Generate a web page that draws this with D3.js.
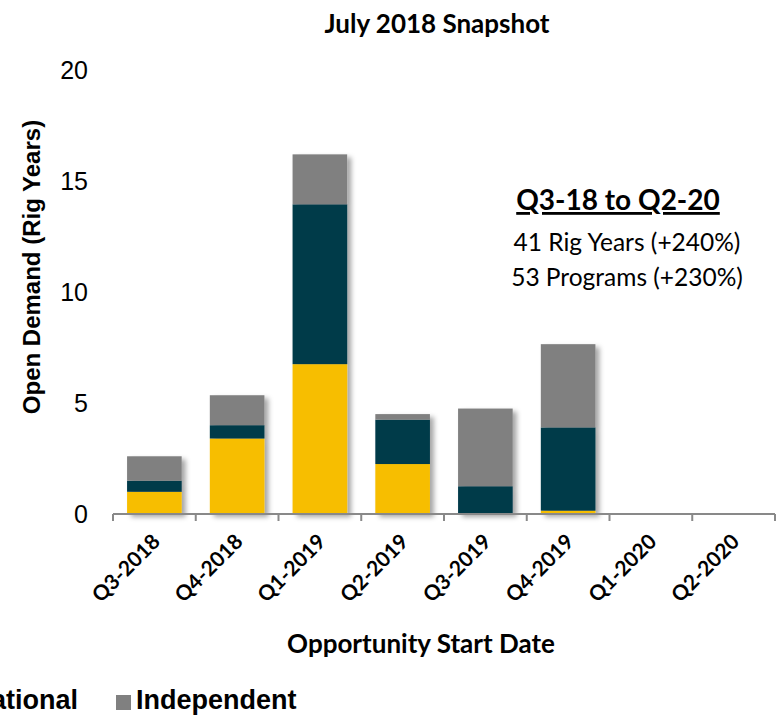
<!DOCTYPE html>
<html>
<head>
<meta charset="utf-8">
<script src="https://cdn.jsdelivr.net/npm/d3@7/dist/d3.min.js"></script>
<style>
  html, body { margin: 0; padding: 0; background: #fff; }
  svg { display: block; }
</style>
</head>
<body>
<div id="chart"></div>
<script>
// Open rig demand by opportunity start quarter, stacked by operator type
const quarters = ["Q3-2018", "Q4-2018", "Q1-2019", "Q2-2019", "Q3-2019", "Q4-2019", "Q1-2020", "Q2-2020"];
const seriesNames = ["National", "International", "Independent"];
const nationalValues      = [1.0, 3.4, 6.75, 2.25, 0.0, 0.15, 0, 0];
const internationalValues = [0.5, 0.6, 7.2, 2.0, 1.25, 3.75, 0, 0];
const independentValues   = [1.1, 1.35, 2.25, 0.25, 3.5, 3.75, 0, 0];
const yTicks = [0, 5, 10, 15, 20];
const seriesColors = ["#F7BE00", "#013A4A", "#808080"];

const summaryTitle = "Q3-18 to Q2-20";
const summaryLines = ["41 Rig Years (+240%)", "53 Programs (+230%)"];

const W = 776, H = 718;
const margin = { left: 113, right: 0, top: 70, bottom: 204 };

const svg = d3.select("#chart").append("svg")
  .attr("width", W).attr("height", H);

const defs = svg.append("defs");
const shadow = defs.append("filter").attr("id", "barShadow")
  .attr("x", "-20%").attr("y", "-20%").attr("width", "150%").attr("height", "140%");
shadow.append("feDropShadow")
  .attr("dx", 4).attr("dy", 3).attr("stdDeviation", 2.5)
  .attr("flood-color", "#000").attr("flood-opacity", 0.35);

const x = d3.scaleBand()
  .domain(quarters)
  .range([margin.left, W - 1])
  .paddingInner(0.34)
  .paddingOuter(0.17);

const y = d3.scaleLinear()
  .domain([0, 20])
  .range([H - margin.bottom, margin.top]);

// stacked data
const rows = quarters.map((q, i) => ({
  quarter: q,
  National: nationalValues[i],
  International: internationalValues[i],
  Independent: independentValues[i]
}));
const stacked = d3.stack().keys(seriesNames)(rows);

// bars
const barsG = svg.append("g");
quarters.forEach((q, i) => {
  const total = nationalValues[i] + internationalValues[i] + independentValues[i];
  if (total <= 0) return;
  const g = barsG.append("g").attr("filter", "url(#barShadow)");
  stacked.forEach((layer, k) => {
    const d = layer[i];
    if (d[1] - d[0] <= 0) return;
    g.append("rect")
      .attr("x", x(q))
      .attr("width", x.bandwidth())
      .attr("y", y(d[1]))
      .attr("height", y(d[0]) - y(d[1]))
      .attr("fill", seriesColors[k]);
  });
});

// x axis
const xAxisG = svg.append("g")
  .attr("transform", `translate(0,${y(0)})`);
const step = x.step();
const edges = quarters.map(q => x(q) - x.paddingInner() * step / 2).concat([W - 1]);
xAxisG.append("line")
  .attr("x1", margin.left).attr("x2", W - 1)
  .attr("y1", 0).attr("y2", 0)
  .attr("stroke", "#898989").attr("stroke-width", 2);
xAxisG.selectAll("line.tick")
  .data(edges)
  .join("line")
  .attr("class", "tick")
  .attr("x1", d => d).attr("x2", d => d)
  .attr("y1", 0).attr("y2", 7)
  .attr("stroke", "#898989").attr("stroke-width", 2);

xAxisG.selectAll("text.xlab")
  .data(quarters)
  .join("text")
  .attr("class", "xlab")
  .attr("transform", d => `translate(${x(d) + x.bandwidth() / 2 + 7},${29}) rotate(-45)`)
  .attr("text-anchor", "end")
  .attr("font-family", "Lato, 'Open Sans', sans-serif")
  .attr("font-weight", "bold")
  .attr("font-size", 21)
  .attr("fill", "#000")
  .text(d => d);

// y axis labels (no axis line)
const yAxis = d3.axisLeft(y).tickValues(yTicks).tickSize(0).tickPadding(0);
const yAxisG = svg.append("g")
  .attr("transform", `translate(88,0)`)
  .call(yAxis);
yAxisG.select(".domain").remove();
yAxisG.selectAll("text")
  .attr("font-family", "'Liberation Sans', Arial, sans-serif")
  .attr("font-size", 25)
  .attr("fill", "#000")
  .attr("dy", "0.35em");

// titles
svg.append("text")
  .attr("x", 437).attr("y", 33)
  .attr("text-anchor", "middle")
  .attr("font-family", "Lato, 'Open Sans', sans-serif")
  .attr("font-weight", "bold")
  .attr("font-size", 26)
  .text("July 2018 Snapshot");

svg.append("text")
  .attr("transform", `translate(40,${(y(0) + y(20)) / 2 - 25}) rotate(-90)`)
  .attr("text-anchor", "middle")
  .attr("font-family", "'Liberation Sans', Arial, sans-serif")
  .attr("font-weight", "bold")
  .attr("font-size", 24)
  .text("Open Demand (Rig Years)");

svg.append("text")
  .attr("x", 421).attr("y", 653)
  .attr("text-anchor", "middle")
  .attr("font-family", "Lato, 'Open Sans', sans-serif")
  .attr("font-weight", "bold")
  .attr("font-size", 26)
  .text("Opportunity Start Date");

// summary callout
const callout = svg.append("g").attr("transform", "translate(618,0)");
callout.append("text")
  .attr("x", 0).attr("y", 210)
  .attr("text-anchor", "middle")
  .attr("font-family", "Lato, 'Open Sans', sans-serif")
  .attr("font-weight", "bold")
  .attr("font-size", 28)
  .attr("text-decoration", "underline")
  .text(summaryTitle);
callout.selectAll("text.line")
  .data(summaryLines)
  .join("text")
  .attr("class", "line")
  .attr("x", 9).attr("y", (d, i) => 251 + i * 35)
  .attr("text-anchor", "middle")
  .attr("font-family", "Lato, 'Open Sans', sans-serif")
  .attr("font-size", 24.5)
  .text(d => d);

// legend, laid out left to right, anchored so the last item sits at a fixed spot
const legend = svg.append("g");
let cursor = 0;
const itemStarts = [];
seriesNames.forEach((name, k) => {
  itemStarts.push(cursor);
  legend.append("rect")
    .attr("x", cursor).attr("y", -14)
    .attr("width", 15).attr("height", 15)
    .attr("fill", seriesColors[k]);
  const t = legend.append("text")
    .attr("x", cursor + 20).attr("y", 0)
    .attr("font-family", "'Liberation Sans', Arial, sans-serif")
    .attr("font-weight", "bold")
    .attr("font-size", 27)
    .text(name);
  cursor += 20 + t.node().getComputedTextLength() + 38;
});
legend.attr("transform", `translate(${116 - itemStarts[2]},709)`);
</script>
</body>
</html>
